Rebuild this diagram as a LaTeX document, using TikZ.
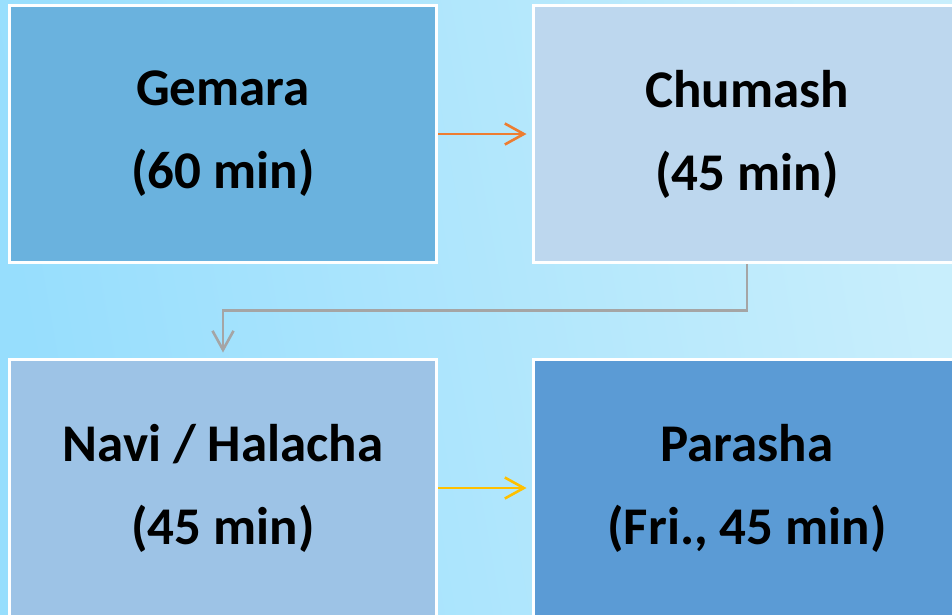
\documentclass[tikz,border=0pt]{standalone}
\usepackage{fontspec}
\setmainfont{Carlito}
\usetikzlibrary{arrows.meta}
\definecolor{bgL}{HTML}{97DEFD}
\definecolor{bgR}{HTML}{C8EEFC}
\definecolor{cA}{HTML}{6AB2DE}
\definecolor{cB}{HTML}{BDD7EE}
\definecolor{cC}{HTML}{9DC3E6}
\definecolor{cD}{HTML}{5B9BD5}
\definecolor{arO}{HTML}{ED7D31}
\definecolor{arG}{HTML}{A5A5A5}
\definecolor{arY}{HTML}{FFC000}
\tikzset{
  box/.style={draw=white, line width=2.5pt, minimum width=427pt, minimum height=257pt,
    inner sep=0pt, outer sep=0pt, align=center,
    font=\fontsize{53}{83}\selectfont\bfseries},
  conn/.style={line width=2.6pt, -{Straight Barb[length=19pt,width=21pt,line width=2.6pt]}, shorten >=7pt, shorten <=1.5pt}
}
\begin{document}
\begin{tikzpicture}[x=1pt,y=-1pt]
\useasboundingbox (0,0) rectangle (952,614);
\shade[left color=bgL, right color=bgR, shading angle=100] (0,0) rectangle (952,614);
\node[box, fill=cA] (g) at (223,134) {Gemara\\(60 min)};
\node[box, fill=cB] (c) at (747,134) {Chumash\\(45 min)};
\node[box, fill=cC] (n) at (223,488) {Navi / Halacha\\(45 min)};
\node[box, fill=cD] (p) at (747,488) {Parasha\\(Fri., 45 min)};
\draw[conn, draw=arO] (g.east) -- (c.west);
\draw[conn, draw=arG] (c.south) |- ([yshift=49pt]n.north) -- (n.north);
\draw[conn, draw=arY] (n.east) -- (p.west);
\end{tikzpicture}
\end{document}
